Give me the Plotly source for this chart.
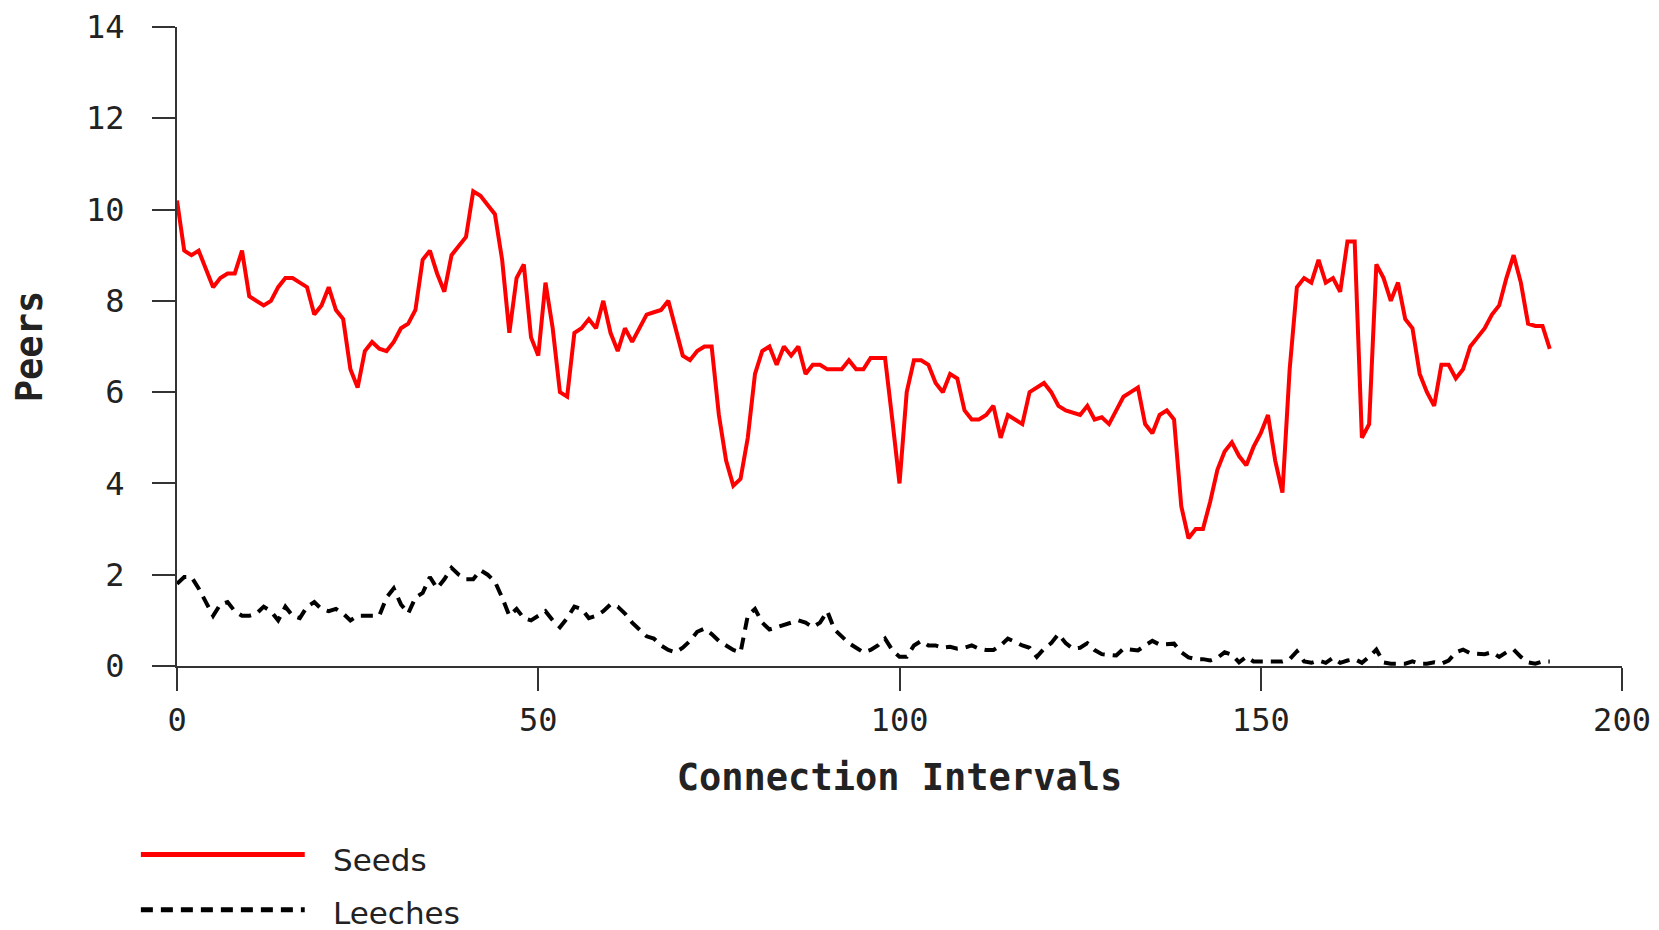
import plotly.graph_objects as go

intervals = list(range(191))

seeds = [
    10.2, 9.1, 9.0, 9.1, 8.7, 8.3, 8.5, 8.6, 8.6, 9.1,
    8.1, 8.0, 7.9, 8.0, 8.3, 8.5, 8.5, 8.4, 8.3, 7.7,
    7.9, 8.3, 7.8, 7.6, 6.5, 6.1, 6.9, 7.1, 6.95, 6.9,
    7.1, 7.4, 7.5, 7.8, 8.9, 9.1, 8.6, 8.2, 9.0, 9.2,
    9.4, 10.4, 10.3, 10.1, 9.9, 8.9, 7.3, 8.5, 8.8, 7.2,
    6.8, 8.4, 7.4, 6.0, 5.9, 7.3, 7.4, 7.6, 7.4, 8.0,
    7.3, 6.9, 7.4, 7.1, 7.4, 7.7, 7.75, 7.8, 8.0, 7.4,
    6.8, 6.7, 6.9, 7.0, 7.0, 5.5, 4.5, 3.95, 4.1, 5.0,
    6.4, 6.9, 7.0, 6.6, 7.0, 6.8, 7.0, 6.4, 6.6, 6.6,
    6.5, 6.5, 6.5, 6.7, 6.5, 6.5, 6.75, 6.75, 6.75, 5.4,
    4.0, 6.0, 6.7, 6.7, 6.6, 6.2, 6.0, 6.4, 6.3, 5.6,
    5.4, 5.4, 5.5, 5.7, 5.0, 5.5, 5.4, 5.3, 6.0, 6.1,
    6.2, 6.0, 5.7, 5.6, 5.55, 5.5, 5.7, 5.4, 5.45, 5.3,
    5.6, 5.9, 6.0, 6.1, 5.3, 5.1, 5.5, 5.6, 5.4, 3.5,
    2.8, 3.0, 3.0, 3.6, 4.3, 4.7, 4.9, 4.6, 4.4, 4.8,
    5.1, 5.5, 4.5, 3.8, 6.5, 8.3, 8.5, 8.4, 8.9, 8.4,
    8.5, 8.2, 9.3, 9.3, 5.0, 5.3, 8.8, 8.5, 8.0, 8.4,
    7.6, 7.4, 6.4, 6.0, 5.7, 6.6, 6.6, 6.3, 6.5, 7.0,
    7.2, 7.4, 7.7, 7.9, 8.5, 9.0, 8.4, 7.5, 7.45, 7.45,
    6.95,
]

leeches = [
    1.8, 1.95, 1.95, 1.7, 1.4, 1.1, 1.35, 1.4, 1.2, 1.1,
    1.1, 1.15, 1.3, 1.2, 1.0, 1.3, 1.1, 1.05, 1.3, 1.4,
    1.25, 1.2, 1.25, 1.15, 1.0, 1.1, 1.1, 1.1, 1.1, 1.5,
    1.7, 1.35, 1.15, 1.5, 1.6, 1.95, 1.7, 1.9, 2.15, 2.0,
    1.9, 1.9, 2.1, 2.0, 1.85, 1.5, 1.1, 1.25, 1.05, 1.0,
    1.1, 1.2, 1.0, 0.85, 1.05, 1.3, 1.25, 1.05, 1.1, 1.2,
    1.35, 1.3, 1.15, 0.95, 0.8, 0.65, 0.6, 0.45, 0.35, 0.3,
    0.4, 0.55, 0.75, 0.82, 0.7, 0.55, 0.45, 0.35, 0.3, 1.1,
    1.25, 0.95, 0.8, 0.85, 0.9, 0.95, 1.0, 0.95, 0.85, 0.95,
    1.2, 0.8, 0.65, 0.5, 0.4, 0.3, 0.35, 0.45, 0.6, 0.35,
    0.2, 0.2, 0.45, 0.55, 0.45, 0.45, 0.4, 0.42, 0.38, 0.4,
    0.45, 0.38, 0.35, 0.35, 0.45, 0.6, 0.53, 0.45, 0.4, 0.2,
    0.38, 0.5, 0.7, 0.5, 0.38, 0.4, 0.5, 0.35, 0.26, 0.25,
    0.23, 0.38, 0.35, 0.34, 0.45, 0.55, 0.47, 0.49, 0.49, 0.3,
    0.19, 0.15, 0.15, 0.12, 0.18, 0.3, 0.25, 0.08, 0.2, 0.1,
    0.1, 0.08, 0.08, 0.1, 0.15, 0.32, 0.1, 0.07, 0.12, 0.07,
    0.18, 0.07, 0.12, 0.15, 0.07, 0.2, 0.36, 0.08, 0.05, 0.05,
    0.05, 0.1, 0.05, 0.05, 0.08, 0.05, 0.12, 0.3, 0.36, 0.28,
    0.26, 0.26, 0.3, 0.2, 0.3, 0.36, 0.2, 0.08, 0.05, 0.1,
    0.1,
]

x_ticks = [0, 50, 100, 150, 200]
y_ticks = [0, 2, 4, 6, 8, 10, 12, 14]
series_names = ["Seeds", "Leeches"]

RED = "#ff0000"
BLACK = "#000000"
TXT = "#222222"
MONO = "DejaVu Sans Mono, Liberation Mono, monospace"
SANS = "DejaVu Sans, Verdana, sans-serif"
DASH = "12px,8px"

fig = go.Figure()
fig.add_trace(go.Scatter(x=intervals, y=seeds, mode="lines", name=series_names[0],
                         line=dict(color=RED, width=4), showlegend=False))
fig.add_trace(go.Scatter(x=intervals, y=leeches, mode="lines", name=series_names[1],
                         line=dict(color=BLACK, width=4, dash=DASH), showlegend=False))

axis_common = dict(showgrid=False, zeroline=False, showline=True, linecolor="#333333",
                   linewidth=2, ticks="outside", ticklen=23, tickwidth=2, tickcolor="#333333",
                   tickfont=dict(family=MONO, size=32, color=TXT), ticklabeloverflow="allow",
                   automargin=False)

fig.update_xaxes(range=[0, 200], tickvals=x_ticks, ticktext=[str(v) for v in x_ticks],
                 title=dict(text="<b>Connection Intervals</b>", font=dict(family=MONO, size=37, color=TXT),
                            standoff=26),
                 ticklabelstandoff=2, **axis_common)
fig.update_yaxes(range=[0, 14], tickvals=y_ticks, ticktext=[str(v) for v in y_ticks],
                 title=dict(text="<b>Peers</b>", font=dict(family=MONO, size=37, color=TXT),
                            standoff=40),
                 ticklabelstandoff=21, **axis_common)

# Legend drawn below the plot (plot area: top 19 px, bottom 658 px)
legend_items = [
    (series_names[0], RED, "solid", -0.2950, -0.3041),
    (series_names[1], BLACK, DASH, -0.3814, -0.3865),
]
for name, color, dash, yl, yt in legend_items:
    fig.add_shape(type="line", xref="paper", yref="paper", x0=-0.0250, x1=0.0884, y0=yl, y1=yl,
                  line=dict(color=color, width=5, dash=dash))
    fig.add_annotation(xref="paper", yref="paper", x=0.1076, y=yt, text=name, showarrow=False,
                       xanchor="left", yanchor="middle", borderpad=0,
                       font=dict(family=SANS, size=31, color=TXT))

fig.update_layout(width=1659, height=930, plot_bgcolor="white", paper_bgcolor="white",
                  margin=dict(l=169, r=45, t=19, b=272))

fig.write_html("out.html")
